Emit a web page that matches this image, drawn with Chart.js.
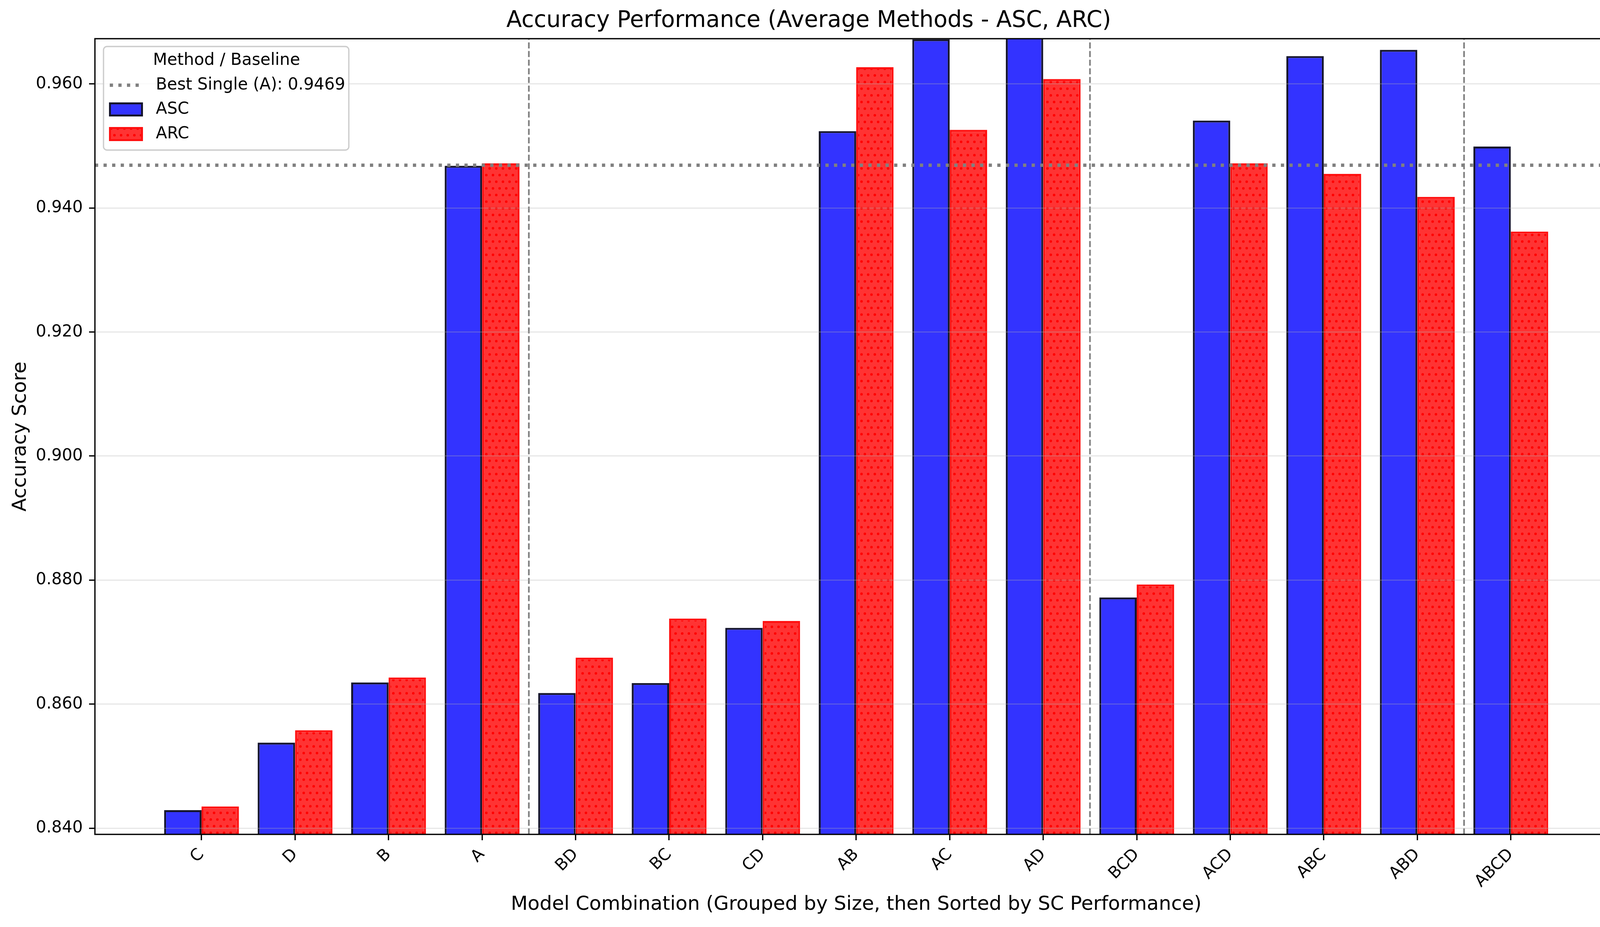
<!DOCTYPE html>
<html>
<head>
<meta charset="utf-8">
<title>Accuracy Performance</title>
<script src="https://cdn.jsdelivr.net/npm/chart.js@4.4.1/dist/chart.umd.min.js"></script>
<style>
  body { margin: 0; background: #fff; }
  canvas { display: block; }
</style>
</head>
<body>
<canvas id="myChart" width="4169" height="2372"></canvas>
<script>
// model combinations, grouped by size then sorted by SC performance
const combos = ["C", "D", "B", "A", "BD", "BC", "CD", "AB", "AC", "AD", "BCD", "ACD", "ABC", "ABD", "ABCD"];
const groupSizes = [4, 6, 4, 1];
const ascScores = [0.8429, 0.8538, 0.8635, 0.9468, 0.8618, 0.8634, 0.8723, 0.9524, 0.9672, 0.9690, 0.8772, 0.9541, 0.9645, 0.9655, 0.9499];
const arcScores = [0.8435, 0.8558, 0.8643, 0.9472, 0.8675, 0.8738, 0.8734, 0.9627, 0.9526, 0.9608, 0.8793, 0.9472, 0.9455, 0.9418, 0.9362];
const bestSingle = 0.9469;
const yTickValues = [0.84, 0.86, 0.88, 0.90, 0.92, 0.94, 0.96];

document.addEventListener("DOMContentLoaded", () => {
  Chart.defaults.font.family = "'DejaVu Sans', sans-serif";
  Chart.defaults.color = "#000";

  const xMin = -1.14, xMax = combos.length - 1 + 1.14;
  const yMin = 0.839, yMax = 0.9673;

  // red '..' hatch
  function dotPattern() {
    const c = document.createElement("canvas");
    c.width = 17; c.height = 34;
    const g = c.getContext("2d");
    g.fillStyle = "#ff3333";
    g.fillRect(0, 0, 17, 34);
    g.fillStyle = "#ff0000";
    [[4, 6], [12.5, 23]].forEach(([px, py]) => {
      g.beginPath();
      g.arc(px, py, 3.2, 0, Math.PI * 2);
      g.fill();
    });
    return g.createPattern(c, "repeat");
  }

  // dashed separators between combination sizes
  const bounds = [];
  let acc = 0;
  groupSizes.slice(0, -1).forEach((n) => { acc += n; bounds.push(acc - 0.5); });

  const datasets = [
    {
      label: "ASC",
      data: combos.map((c, i) => ({ x: i, y: ascScores[i] })),
      backgroundColor: "#3333ff",
      borderColor: "#16162e",
      borderWidth: 5,
      order: 2,
      clip: 0,
    },
    {
      label: "ARC",
      data: combos.map((c, i) => ({ x: i, y: arcScores[i] })),
      backgroundColor: dotPattern(),
      borderColor: "#ff1010",
      borderWidth: 5,
      order: 2,
      clip: 0,
    },
    {
      type: "line",
      label: `Best Single (A): ${bestSingle.toFixed(4)}`,
      data: [{ x: xMin, y: bestSingle }, { x: xMax, y: bestSingle }],
      borderColor: "#808080",
      borderWidth: 8.3,
      borderDash: [8.3, 13.7],
      borderCapStyle: "butt",
      pointRadius: 0,
      order: 0,
      clip: 0,
    },
  ];
  bounds.forEach((b) => {
    datasets.push({
      type: "line",
      label: "sep",
      data: [{ x: b, y: yMin }, { x: b, y: yMax }],
      borderColor: "#808080",
      borderWidth: 4.2,
      borderDash: [15.4, 6.7],
      pointRadius: 0,
      order: 1,
      clip: 0,
    });
  });

  const framePlugin = {
    id: "frame",
    afterDraw(chart) {
      const { ctx, chartArea: a } = chart;
      ctx.save();
      ctx.strokeStyle = "#000";
      ctx.lineWidth = 3.3;
      ctx.strokeRect(a.left, a.top, a.right - a.left, a.bottom - a.top);
      ctx.restore();
    },
  };

  // legend box inside the plot, upper left
  const legendPlugin = {
    id: "boxLegend",
    afterDraw(chart) {
      const { ctx, chartArea: a } = chart;
      const ds = chart.data.datasets;
      const x0 = a.left + 22, y0 = a.top + 20;
      ctx.save();
      ctx.beginPath();
      ctx.roundRect(x0, y0, 628, 265, 9);
      ctx.fillStyle = "rgba(255,255,255,0.8)";
      ctx.fill();
      ctx.strokeStyle = "#cccccc";
      ctx.lineWidth = 3.3;
      ctx.stroke();

      ctx.font = "42px 'DejaVu Sans'";
      ctx.fillStyle = "#000";
      ctx.textBaseline = "middle";
      ctx.textAlign = "center";
      ctx.fillText("Method / Baseline", x0 + 315, y0 + 36);
      ctx.textAlign = "left";

      const rowY = [y0 + 99, y0 + 161, y0 + 224];
      const best = ds[2];
      ctx.strokeStyle = best.borderColor;
      ctx.lineWidth = best.borderWidth;
      ctx.setLineDash(best.borderDash);
      ctx.beginPath();
      ctx.moveTo(x0 + 16, rowY[0]);
      ctx.lineTo(x0 + 92, rowY[0]);
      ctx.stroke();
      ctx.setLineDash([]);
      ctx.fillText(best.label, x0 + 134, rowY[0]);

      [ds[0], ds[1]].forEach((d, k) => {
        const y = rowY[k + 1];
        ctx.fillStyle = d.borderColor;
        ctx.fillRect(x0 + 14, y - 18, 87, 36);
        ctx.fillStyle = d.backgroundColor;
        ctx.fillRect(x0 + 14 + d.borderWidth, y - 18 + d.borderWidth, 87 - 2 * d.borderWidth, 36 - 2 * d.borderWidth);
        ctx.fillStyle = "#000";
        ctx.fillText(d.label, x0 + 134, y);
      });
      ctx.restore();
    },
  };

  const ctx = document.getElementById("myChart").getContext("2d");
  new Chart(ctx, {
    type: "bar",
    data: { datasets: datasets },
    options: {
      responsive: false,
      devicePixelRatio: 1,
      animation: false,
      layout: { padding: { left: 0, right: 28.4, top: 0, bottom: 0 } },
      datasets: { bar: { categoryPercentage: 0.8, barPercentage: 1.0 } },
      plugins: {
        legend: { display: false },
        tooltip: { enabled: false },
        title: {
          display: true,
          text: "Accuracy Performance (Average Methods - ASC, ARC)",
          font: { size: 58, weight: "normal" },
          color: "#000",
          padding: { top: 19, bottom: 10.4 },
        },
      },
      scales: {
        x: {
          type: "linear",
          min: xMin,
          max: xMax,
          offset: false,
          bounds: "data",
          afterBuildTicks: (scale) => {
            scale.ticks = combos.map((c, i) => ({ value: i }));
          },
          afterFit: (scale) => {
            scale.height = 237;
            scale.paddingLeft = 0;
            scale.paddingRight = 0;
          },
          ticks: {
            autoSkip: false,
            minRotation: 45,
            maxRotation: 45,
            padding: 12,
            font: { size: 42 },
            color: "#000",
            callback: (v) => combos[v],
          },
          grid: {
            offset: false,
            drawOnChartArea: false,
            drawTicks: true,
            tickLength: 15,
            tickWidth: 3.3,
            tickColor: "#000",
          },
          border: { display: false },
          title: {
            display: true,
            text: "Model Combination (Grouped by Size, then Sorted by SC Performance)",
            font: { size: 50 },
            color: "#000",
            padding: { top: 0, bottom: 27 },
          },
        },
        y: {
          min: yMin,
          max: yMax,
          beginAtZero: false,
          afterBuildTicks: (scale) => {
            scale.ticks = yTickValues.map((v) => ({ value: v }));
          },
          afterFit: (scale) => {
            scale.width = 243;
            scale.paddingTop = 0;
            scale.paddingBottom = 0;
          },
          ticks: {
            padding: 16,
            font: { size: 42 },
            color: "#000",
            callback: (v) => v.toFixed(3),
          },
          grid: {
            z: 1,
            color: "rgba(176,176,176,0.3)",
            lineWidth: 3,
            tickLength: 15,
            tickWidth: 3.3,
            tickColor: "#000",
          },
          border: { display: false },
          title: {
            display: true,
            text: "Accuracy Score",
            font: { size: 50 },
            color: "#000",
            padding: { top: 23, bottom: 0 },
          },
        },
      },
    },
    plugins: [framePlugin, legendPlugin],
  });
});
</script>
</body>
</html>
